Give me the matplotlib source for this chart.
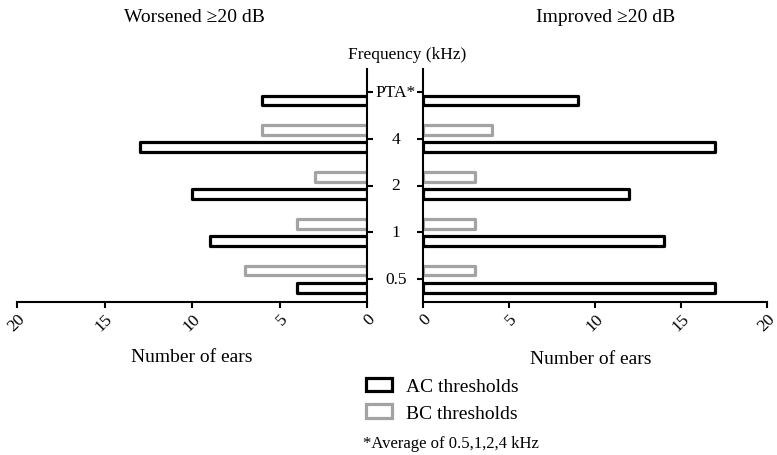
import numpy as np
import matplotlib
matplotlib.use("Agg")
import matplotlib.pyplot as plt
import matplotlib.transforms as mtransforms
from matplotlib.patches import Patch

plt.rcParams['font.family'] = ['Liberation Serif', 'DejaVu Serif']

# data
freqs = ['0.5', '1', '2', '4', 'PTA*']
worse_ac = [4, 9, 10, 13, 6]
worse_bc = [7, 4, 3, 6]        # no BC bar for PTA
improve_ac = [17, 14, 12, 17, 9]
improve_bc = [3, 3, 3, 4]

ac_col = 'black'
bc_col = '#a3a3a3'
bh = 0.21
off = 0.185
lw = 2.3

W, H = 777, 456
fig = plt.figure(figsize=(W / 100, H / 100), dpi=100)

def fx(px):
    return px / W

def fy(py):
    return 1 - py / H

bot, top = fy(303), fy(70)
axL = fig.add_axes([fx(17), bot, fx(367 - 17), top - bot])
axR = fig.add_axes([fx(423), bot, fx(767 - 423), top - bot])

pos = np.arange(len(freqs))
pos_bc = pos[:len(worse_bc)]

for ax, ac, bc in [(axL, worse_ac, worse_bc), (axR, improve_ac, improve_bc)]:
    ax.barh(pos - off, ac, height=bh, facecolor='white', edgecolor=ac_col,
            linewidth=lw, joinstyle='round', zorder=3)
    ax.barh(pos_bc + off, bc, height=bh, facecolor='white', edgecolor=bc_col,
            linewidth=lw, joinstyle='round', zorder=2)
    ax.set_ylim(-0.49, 4.49)
    ax.set_xticks([0, 5, 10, 15, 20])
    ax.set_yticks(pos)
    ax.set_yticklabels([])
    ax.spines['top'].set_visible(False)
    for s in ax.spines.values():
        s.set_linewidth(1.5)
    ax.tick_params(axis='both', width=1.5, length=4, labelsize=12.5)
    ax.tick_params(axis='x', pad=2)
    for lab in ax.get_xticklabels():
        lab.set_rotation(45)
        lab.set_ha('right')
        lab.set_rotation_mode('anchor')

axL.set_xlim(20, 0)
axL.spines['left'].set_visible(False)
axL.yaxis.tick_right()
axR.set_xlim(0, 20)
axR.spines['right'].set_visible(False)
axR.yaxis.tick_left()

# frequency labels between the two panels
trans = mtransforms.blended_transform_factory(fig.transFigure, axR.transData)
for p, f in zip(pos, freqs):
    fig.text(fx(396), p, f, transform=trans, ha='center', va='center', fontsize=12.5)

fig.text(fx(407), fy(55), 'Frequency (kHz)', ha='center', va='center', fontsize=12.5)
fig.text(fx(194), fy(17), 'Worsened \u226520 dB', ha='center', va='center', fontsize=14)
fig.text(fx(606), fy(17), 'Improved \u226520 dB', ha='center', va='center', fontsize=14)
fig.text(fx(192), fy(357), 'Number of ears', ha='center', va='center', fontsize=14)
fig.text(fx(591), fy(360), 'Number of ears', ha='center', va='center', fontsize=14)

handles = [Patch(facecolor='white', edgecolor=ac_col, linewidth=lw, joinstyle='round'),
           Patch(facecolor='white', edgecolor=bc_col, linewidth=lw, joinstyle='round')]
fig.legend(handles, ['AC thresholds', 'BC thresholds'], loc='upper left',
           bbox_to_anchor=(fx(352), fy(365)), frameon=False, fontsize=14,
           handlelength=1.35, handleheight=0.7, handletextpad=0.75, labelspacing=0.45,
           borderpad=0.2)
fig.text(fx(363), fy(444), '*Average of 0.5,1,2,4 kHz', ha='left', va='center', fontsize=12)

fig.savefig('out.png', dpi=100)
